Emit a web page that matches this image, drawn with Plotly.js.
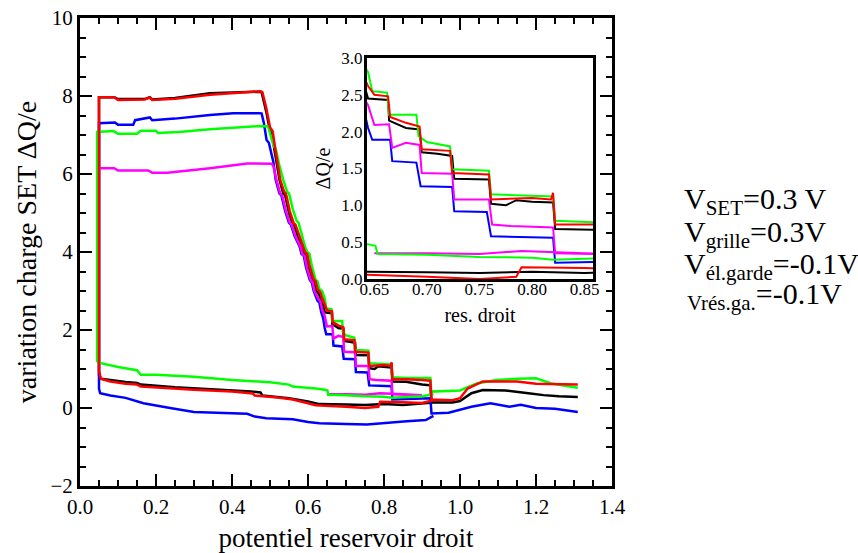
<!DOCTYPE html>
<html>
<head>
<meta charset="utf-8">
<script src="https://cdn.plot.ly/plotly-3.0.1.min.js"></script>
<style>
html,body{margin:0;padding:0;background:#fff;}
#chart{width:858px;height:553px;}
</style>
</head>
<body>
<div id="chart"></div>
<script>
// ---- data ----
// Each series: lower branch (right to left), jump at x~0.05, upper branch (left to right)
const blackX = [0.93,0.9,0.85,0.8,0.75,0.7,0.63,0.6,0.55,0.48,0.475,0.45,0.35,0.25,0.16,0.15,0.12,0.08,0.055,0.05,
  0.05,0.09,0.1,0.17,0.184,0.19,0.25,0.342,0.42,0.474,0.478,0.491,0.5,0.506,0.512,0.525,0.535,0.54,0.55,0.56,0.565,0.575,0.585,0.59,0.596,0.602,0.612,0.617,0.622,0.63,0.635,0.64,0.644,
  0.663,0.664,0.68,0.693,0.695,0.71,0.724,0.726,0.759,0.761,0.775,0.785,0.8,0.82,0.822,0.858,0.9,0.922,0.925,0.98,1.0,1.03,1.06,1.12,1.18,1.22,1.26,1.31];
const blackY = [0.14,0.12,0.08,0.1,0.08,0.09,0.1,0.17,0.25,0.32,0.4,0.42,0.47,0.53,0.6,0.64,0.67,0.72,0.75,0.85,
  7.97,7.97,7.92,7.92,7.97,7.91,7.95,8.07,8.1,8.11,8.1,7.56,7.1,7.0,6.6,5.85,5.5,5.45,5.0,4.7,4.65,4.35,4.14,3.95,3.9,3.6,3.3,3.25,3.0,2.9,2.7,2.65,2.45,
  2.43,2.15,2.05,2.03,1.72,1.7,1.67,1.36,1.35,1.02,1.0,1.07,1.05,1.04,0.68,0.67,0.6,0.58,0.14,0.14,0.18,0.38,0.46,0.45,0.38,0.33,0.3,0.28];

const redX = [0.93,0.9,0.85,0.79,0.785,0.75,0.7,0.62,0.6,0.56,0.52,0.46,0.455,0.4,0.3,0.25,0.16,0.15,0.12,0.08,0.055,0.05,
  0.05,0.09,0.1,0.17,0.184,0.19,0.25,0.342,0.42,0.474,0.48,0.49,0.5,0.507,0.513,0.527,0.537,0.542,0.552,0.562,0.567,0.577,0.587,0.592,0.598,0.604,0.615,0.62,0.625,0.633,0.638,0.644,
  0.65,0.663,0.665,0.68,0.693,0.695,0.722,0.724,0.759,0.761,0.8,0.818,0.82,0.822,0.858,0.9,0.922,0.925,0.98,1.0,1.02,1.06,1.15,1.2,1.31];
const redY = [0.2,0.13,0.15,0.16,0.03,0.0,0.03,0.07,0.12,0.22,0.27,0.32,0.37,0.42,0.47,0.5,0.55,0.6,0.62,0.68,0.75,0.95,
  7.97,7.97,7.9,7.91,7.96,7.9,7.93,8.03,8.08,8.12,8.1,7.7,7.2,7.1,6.7,5.85,5.55,5.5,5.05,4.75,4.7,4.4,4.14,4.0,3.95,3.65,3.3,3.25,3.05,2.95,2.8,2.62,
  2.5,2.48,2.2,2.12,2.07,1.76,1.74,1.44,1.42,1.08,1.1,1.08,1.17,0.74,0.74,0.72,0.7,0.22,0.2,0.25,0.5,0.68,0.68,0.62,0.6];

const blueX = [0.93,0.91,0.86,0.8,0.755,0.7,0.63,0.6,0.56,0.49,0.46,0.44,0.35,0.3,0.237,0.2,0.167,0.12,0.08,0.053,0.05,
  0.05,0.092,0.1,0.14,0.145,0.184,0.19,0.25,0.342,0.403,0.474,0.478,0.484,0.491,0.497,0.503,0.509,0.515,0.525,0.53,0.54,0.55,0.555,0.565,0.578,0.583,0.589,0.595,0.605,0.61,0.615,0.625,0.63,0.635,0.64,0.644,
  0.648,0.665,0.667,0.69,0.694,0.724,0.726,0.757,0.761,0.82,0.822,0.922,0.925,0.97,1.03,1.08,1.13,1.16,1.2,1.25,1.31];
const blueY = [-0.2,-0.31,-0.34,-0.38,-0.42,-0.41,-0.39,-0.36,-0.29,-0.26,-0.22,-0.15,-0.12,-0.1,0.0,0.06,0.12,0.26,0.32,0.38,0.5,
  7.3,7.32,7.26,7.26,7.38,7.45,7.38,7.42,7.51,7.56,7.56,7.55,7.3,6.87,6.8,6.5,6.3,5.85,5.5,5.45,5.05,4.75,4.7,4.4,4.14,3.95,3.9,3.6,3.28,3.22,3.0,2.75,2.7,2.45,2.3,2.05,
  1.89,1.89,1.6,1.58,1.26,1.25,0.92,0.91,0.58,0.56,0.22,0.25,-0.14,-0.12,0.03,0.12,0.03,0.08,0.0,-0.02,-0.1];

const greenX = [0.93,0.9,0.86,0.82,0.8,0.75,0.7,0.653,0.651,0.645,0.62,0.56,0.55,0.5,0.4,0.3,0.2,0.16,0.15,0.1,0.055,0.045,
  0.045,0.088,0.1,0.15,0.16,0.2,0.205,0.26,0.342,0.474,0.495,0.5,0.51,0.515,0.525,0.535,0.545,0.55,0.56,0.57,0.575,0.585,0.592,0.598,0.604,0.61,0.62,0.625,0.63,0.637,0.64,0.644,
  0.648,0.662,0.664,0.69,0.692,0.7,0.722,0.724,0.759,0.761,0.82,0.822,0.858,0.922,0.924,1.0,1.044,1.097,1.15,1.2,1.24,1.31];
const greenY = [0.35,0.3,0.28,0.26,0.29,0.3,0.33,0.34,0.45,0.47,0.5,0.55,0.6,0.66,0.72,0.8,0.85,0.85,0.97,1.05,1.15,1.2,
  7.08,7.1,7.03,7.03,7.11,7.11,7.05,7.08,7.15,7.23,7.22,7.05,6.7,6.65,6.2,5.85,5.55,5.5,5.1,4.8,4.75,4.4,4.14,4.0,3.95,3.65,3.28,3.25,3.05,3.0,2.9,2.81,
  2.55,2.53,2.23,2.23,1.94,1.86,1.8,1.49,1.47,1.15,1.12,0.79,0.77,0.77,0.42,0.45,0.63,0.72,0.75,0.76,0.63,0.52];

const magentaX = [0.05,0.09,0.1,0.18,0.19,0.23,0.342,0.44,0.505,0.509,0.517,0.527,0.532,0.542,0.552,0.557,0.567,0.58,0.585,0.591,0.597,0.607,0.612,0.617,0.627,0.632,0.638,0.644,
  0.65,0.664,0.667,0.68,0.693,0.695,0.724,0.726,0.759,0.762,0.78,0.82,0.822,0.86,0.9,
  0.85,0.79,0.75,0.7,0.65];
const magentaY = [6.15,6.15,6.09,6.09,6.03,6.03,6.15,6.27,6.26,6.2,5.85,5.5,5.45,5.05,4.75,4.7,4.4,4.14,3.95,3.9,3.6,3.28,3.22,3.0,2.8,2.75,2.5,2.36,
  2.09,2.1,1.78,1.85,1.82,1.44,1.43,1.08,1.08,0.74,0.72,0.7,0.35,0.34,0.33,
  0.35,0.38,0.34,0.35,0.35];

const mainXTicks = [0,0.2,0.4,0.6,0.8,1.0,1.2,1.4];
const mainYTicks = [-2,0,2,4,6,8,10];
const insetXTicks = [0.65,0.70,0.75,0.80,0.85];
const insetYTicks = [0,0.5,1.0,1.5,2.0,2.5,3.0];

const seriesList = [
  {x: blackX, y: blackY, color: '#000000'},
  {x: blueX, y: blueY, color: '#0000ff'},
  {x: magentaX, y: magentaY, color: '#ff00ff'},
  {x: greenX, y: greenY, color: '#00ff00'},
  {x: redX, y: redY, color: '#ff0000'}
];

const FONT = 'Liberation Serif';
const traces = [];
seriesList.forEach(s => {
  traces.push({x: s.x, y: s.y, type: 'scatter', mode: 'lines', xaxis: 'x', yaxis: 'y',
    line: {color: s.color, width: 2.5}, showlegend: false, hoverinfo: 'skip'});
});
seriesList.forEach(s => {
  traces.push({x: s.x, y: s.y, type: 'scatter', mode: 'lines', xaxis: 'x2', yaxis: 'y2',
    line: {color: s.color, width: 2}, showlegend: false, hoverinfo: 'skip'});
});

const layout = {
  width: 858, height: 553,
  margin: {l: 80, r: 246, t: 18, b: 67},
  paper_bgcolor: '#ffffff', plot_bgcolor: '#ffffff',
  font: {family: FONT, color: '#000', size: 21},
  xaxis: {
    domain: [0, 1], range: [0, 1.4], tickvals: mainXTicks, tickformat: '.1f',
    showline: true, linewidth: 3, linecolor: '#000', mirror: 'ticks',
    ticks: 'inside', ticklen: 12, tickwidth: 2.5, tickcolor: '#000',
    minor: {dtick: 0.05, ticks: 'inside', ticklen: 6, tickwidth: 2, tickcolor: '#000'},
    showgrid: false, zeroline: false, tickfont: {size: 21, family: FONT, color: '#000'},
    title: {text: 'potentiel reservoir droit', font: {size: 27, family: FONT, color: '#000'}, standoff: 12}
  },
  yaxis: {
    domain: [0, 1], range: [-2, 10], tickvals: mainYTicks,
    showline: true, linewidth: 3, linecolor: '#000', mirror: 'ticks',
    ticks: 'inside', ticklen: 12, tickwidth: 2.5, tickcolor: '#000',
    minor: {dtick: 0.5, ticks: 'inside', ticklen: 6, tickwidth: 2, tickcolor: '#000'},
    showgrid: false, zeroline: false, tickfont: {size: 21, family: FONT, color: '#000'},
    title: {text: 'variation charge SET ΔQ/e', font: {size: 28, family: FONT, color: '#000'}, standoff: 6}
  },
  xaxis2: {
    domain: [0.5395, 0.9643], anchor: 'y2', range: [0.643, 0.858], tickvals: insetXTicks, tickformat: '.2f',
    showline: true, linewidth: 3, linecolor: '#000', mirror: true, ticks: '', ticklabelstandoff: -7,
    showgrid: false, zeroline: false, tickfont: {size: 17, family: FONT, color: '#000'},
    title: {text: 'res. droit', font: {size: 20, family: FONT, color: '#000'}, standoff: 10}
  },
  yaxis2: {
    domain: [0.4423, 0.9145], anchor: 'x2', range: [0, 3], tickvals: insetYTicks, tickformat: '.1f',
    showline: true, linewidth: 3, linecolor: '#000', mirror: true, ticks: '', ticklabelstandoff: -2,
    showgrid: false, zeroline: false, tickfont: {size: 17, family: FONT, color: '#000'},
    title: {text: 'ΔQ/e', font: {size: 20, family: FONT, color: '#000'}, standoff: 6}
  },
  annotations: [
    {text: 'V<sub>SET</sub>=0.3 V', xref: 'paper', yref: 'paper', x: 1.1316, y: 0.609, xanchor: 'left', yanchor: 'middle', showarrow: false, font: {size: 30, family: FONT, color: '#000'}},
    {text: 'V<sub>grille</sub>=0.3V', xref: 'paper', yref: 'paper', x: 1.1316, y: 0.5385, xanchor: 'left', yanchor: 'middle', showarrow: false, font: {size: 30, family: FONT, color: '#000'}},
    {text: 'V<sub>él.garde</sub>=-0.1V', xref: 'paper', yref: 'paper', x: 1.1316, y: 0.470, xanchor: 'left', yanchor: 'middle', showarrow: false, font: {size: 30, family: FONT, color: '#000'}},
    {text: '<sub>Vrés.ga.</sub>=-0.1V', xref: 'paper', yref: 'paper', x: 1.137, y: 0.405, xanchor: 'left', yanchor: 'middle', showarrow: false, font: {size: 30, family: FONT, color: '#000'}}
  ]
};

Plotly.newPlot('chart', traces, layout, {staticPlot: true, displayModeBar: false});
</script>
</body>
</html>
